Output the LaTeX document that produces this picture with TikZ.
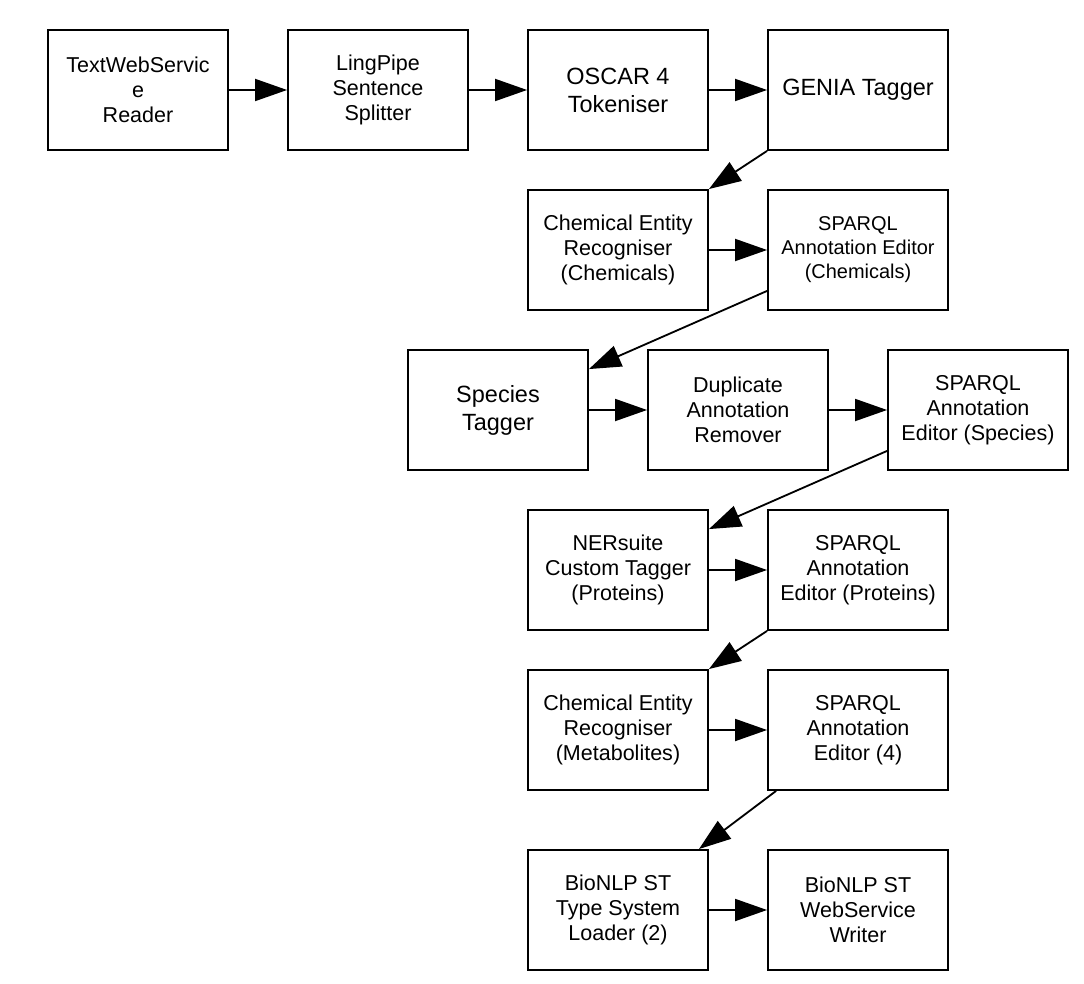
\documentclass[tikz,border=0pt]{standalone}
\usepackage{fontspec}
\setmainfont{Liberation Sans}
\usetikzlibrary{arrows.meta}
\begin{document}
\begin{tikzpicture}[x=0.025cm, y=-0.025cm]
        % Define styles for the pipeline stages
        \tikzset{
            stage/.style={draw, line width=1.3pt, minimum width=4.5cm, minimum height=3cm, align=center, inner sep=2pt, font=\fontsize{15.3pt}{17.8pt}\selectfont},
            bigstage/.style={stage, font=\fontsize{16.7pt}{19.9pt}\selectfont},
            smallstage/.style={stage, font=\fontsize{14.2pt}{17.1pt}\selectfont},
            flow/.style={line width=1.3pt, -{Triangle[length=0.8cm, width=0.55cm]}}
        }
        \useasboundingbox (0,0) rectangle (1084,984);
        % First row
        \node[stage] (reader) at (138, 90) {TextWebServic\\e\\Reader};
        \node[stage] (splitter) at (378, 90) {LingPipe\\Sentence\\Splitter};
        \node[bigstage] (tokeniser) at (618, 90) {OSCAR 4\\Tokeniser};
        \node[bigstage] (genia) at (858, 90) {GENIA Tagger};
        % Chemicals
        \node[stage] (chemicals) at (618, 250) {Chemical Entity\\Recogniser\\(Chemicals)};
        \node[smallstage] (sparqlchem) at (858, 250) {SPARQL\\Annotation Editor\\(Chemicals)};
        % Species
        \node[bigstage] (species) at (498, 410) {Species\\Tagger};
        \node[stage] (duplicate) at (738, 410) {Duplicate\\Annotation\\Remover};
        \node[stage] (sparqlspecies) at (978, 410) {SPARQL\\Annotation\\Editor (Species)};
        % Proteins
        \node[stage] (nersuite) at (618, 570) {NERsuite\\Custom Tagger\\(Proteins)};
        \node[stage] (sparqlprot) at (858, 570) {SPARQL\\Annotation\\Editor (Proteins)};
        % Metabolites
        \node[stage] (metabolites) at (618, 730) {Chemical Entity\\Recogniser\\(Metabolites)};
        \node[stage] (sparqlfour) at (858, 730) {SPARQL\\Annotation\\Editor (4)};
        % Output
        \node[stage] (loader) at (618, 910) {BioNLP ST\\Type System\\Loader (2)};
        \node[stage] (writer) at (858, 910) {BioNLP ST\\WebService\\Writer};
        % Draw arrows
        \draw[flow] (reader) -- (splitter);
        \draw[flow] (splitter) -- (tokeniser);
        \draw[flow] (tokeniser) -- (genia);
        \draw[flow] (genia.south west) -- (chemicals.north east);
        \draw[flow] (chemicals) -- (sparqlchem);
        \draw[flow] ([yshift=0.5cm]sparqlchem.south west) -- ([yshift=-0.5cm]species.north east);
        \draw[flow] (species) -- (duplicate);
        \draw[flow] (duplicate) -- (sparqlspecies);
        \draw[flow] ([yshift=0.5cm]sparqlspecies.south west) -- ([yshift=-0.5cm]nersuite.north east);
        \draw[flow] (nersuite) -- (sparqlprot);
        \draw[flow] (sparqlprot.south west) -- (metabolites.north east);
        \draw[flow] (metabolites) -- (sparqlfour);
        \draw[flow] ([xshift=0.225cm]sparqlfour.south west) -- ([xshift=-0.25cm]loader.north east);
        \draw[flow] (loader) -- (writer);
    \end{tikzpicture}
\end{document}
